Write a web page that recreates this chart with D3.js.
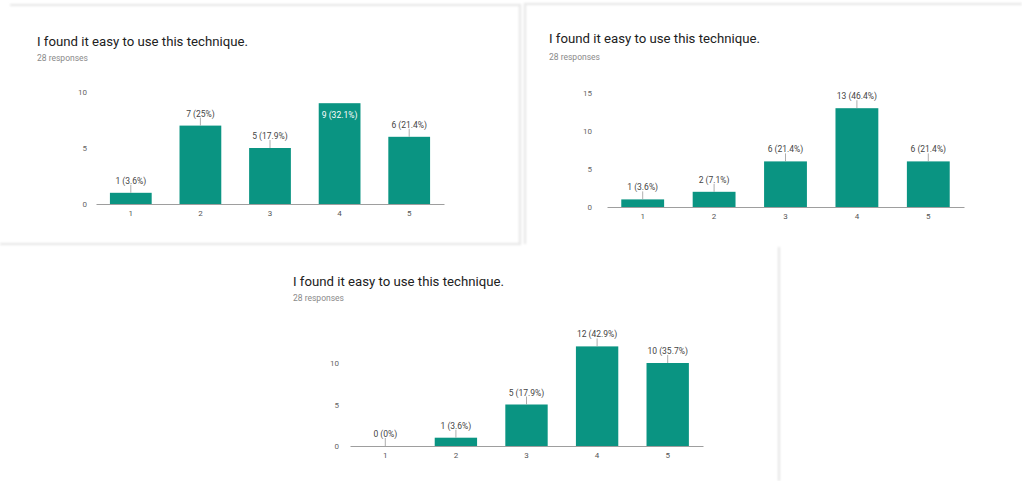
<!DOCTYPE html>
<html>
<head>
<meta charset="utf-8">
<script src="https://cdn.jsdelivr.net/npm/d3@7"></script>
<style>
  html, body { margin: 0; padding: 0; background: #fff; }
  svg { display: block; font-family: Roboto, "Noto Sans", Arial, sans-serif; }
</style>
</head>
<body>
<svg id="chart" width="1022" height="481"></svg>
<script>
// Survey answers: "I found it easy to use this technique." (scale 1–5), three groups
const categories = ["1", "2", "3", "4", "5"];
const countsGroupA = [1, 7, 5, 9, 6];
const countsGroupB = [1, 2, 6, 13, 6];
const countsGroupC = [0, 1, 5, 12, 10];
const totalResponses = 28;
const questionTitle = "I found it easy to use this technique.";
const ticksGroupA = [0, 5, 10];
const ticksGroupB = [0, 5, 10, 15];
const ticksGroupC = [0, 5, 10];

const BAR = "#0a9482";
const svg = d3.select("#chart");

// soft card edges
const defs = svg.append("defs");
defs.append("filter").attr("id", "soft")
  .attr("x", "-20%").attr("y", "-20%").attr("width", "140%").attr("height", "140%")
  .append("feGaussianBlur").attr("stdDeviation", 1.2);

const edges = svg.append("g").attr("filter", "url(#soft)")
  .attr("stroke", "#e6e6e6").attr("stroke-width", 2.2).attr("fill", "none");
// card A: top, right, bottom
edges.append("path").attr("d", "M10,5 H520 V244 H0");
// card B: left, top
edges.append("path").attr("d", "M525,244 V4 H1022");
// card C: right
edges.append("path").attr("d", "M779,247 V481");

const pctFmt = v => {
  const p = Math.round(v / totalResponses * 1000) / 10;
  return `${v} (${p}%)`;
};

const panels = [
  { counts: countsGroupA, ticks: ticksGroupA, ceiling: 10,
    titleX: 37, titleY: 46, subY: 61,
    x0: 96, x1: 444, base: 204, topVal: 10, topY: 92, labelGap: 9 },
  { counts: countsGroupB, ticks: ticksGroupB, ceiling: 15,
    titleX: 549, titleY: 43, subY: 60,
    x0: 607, x1: 964, base: 207, topVal: 15, topY: 93, labelGap: 15 },
  { counts: countsGroupC, ticks: ticksGroupC, ceiling: 15,
    titleX: 293, titleY: 286, subY: 301,
    x0: 350, x1: 703, base: 446, topVal: 10, topY: 363, labelGap: 11 }
];

panels.forEach(p => {
  const g = svg.append("g");

  g.append("text")
    .attr("x", p.titleX).attr("y", p.titleY)
    .attr("font-size", 13.2).attr("fill", "#212121")
    .text(questionTitle);
  g.append("text")
    .attr("x", p.titleX).attr("y", p.subY)
    .attr("font-size", 8.5).attr("fill", "#8a8a8a")
    .text(`${totalResponses} responses`);

  const x = d3.scaleBand().domain(categories).range([p.x0, p.x1])
    .paddingInner(0.4).paddingOuter(0.2);
  const y = d3.scaleLinear().domain([0, p.topVal]).range([p.base, p.topY]);
  const yCeil = y(p.ceiling);

  const data = categories.map((c, i) => ({ cat: c, v: p.counts[i] }));

  // bars
  g.append("g").selectAll("rect").data(data).join("rect")
    .attr("x", d => x(d.cat)).attr("width", x.bandwidth())
    .attr("y", d => y(d.v)).attr("height", d => y(0) - y(d.v))
    .attr("fill", BAR);

  // x axis (baseline + category labels)
  const xAxis = g.append("g").attr("transform", `translate(0,${p.base})`)
    .call(d3.axisBottom(x).tickSize(0).tickPadding(6).tickSizeOuter(0));
  xAxis.attr("color", "#555");
  xAxis.select(".domain").attr("stroke", "#9e9e9e");
  xAxis.selectAll("text").attr("font-size", 8).attr("fill", "#555")
    .attr("font-family", "Roboto, sans-serif");

  // y axis labels
  const yAxis = g.append("g").attr("transform", `translate(${p.x0 - p.labelGap + 9},0)`)
    .call(d3.axisLeft(y).tickValues(p.ticks).tickSize(0).tickPadding(9));
  yAxis.attr("color", "#666");
  yAxis.select(".domain").remove();
  yAxis.selectAll("text").attr("font-size", 8).attr("fill", "#666")
    .attr("font-family", "Roboto, sans-serif");

  // value labels with short leader lines
  const lab = g.append("g").selectAll("g").data(data).join("g");
  lab.each(function (d) {
    const sel = d3.select(this);
    const cx = x(d.cat) + x.bandwidth() / 2;
    const top = y(d.v);
    const inside = top - 15 < yCeil;
    if (inside) {
      sel.append("text")
        .attr("x", cx).attr("y", top + 15)
        .attr("text-anchor", "middle").attr("font-size", 8.5).attr("fill", "#fff")
        .text(pctFmt(d.v));
    } else {
      sel.append("line")
        .attr("x1", cx).attr("x2", cx).attr("y1", top - 8).attr("y2", top)
        .attr("stroke", "#999").attr("stroke-width", 0.8);
      sel.append("text")
        .attr("x", cx).attr("y", top - 9)
        .attr("text-anchor", "middle").attr("font-size", 8.5).attr("fill", "#444")
        .text(pctFmt(d.v));
    }
  });
});
</script>
</body>
</html>
